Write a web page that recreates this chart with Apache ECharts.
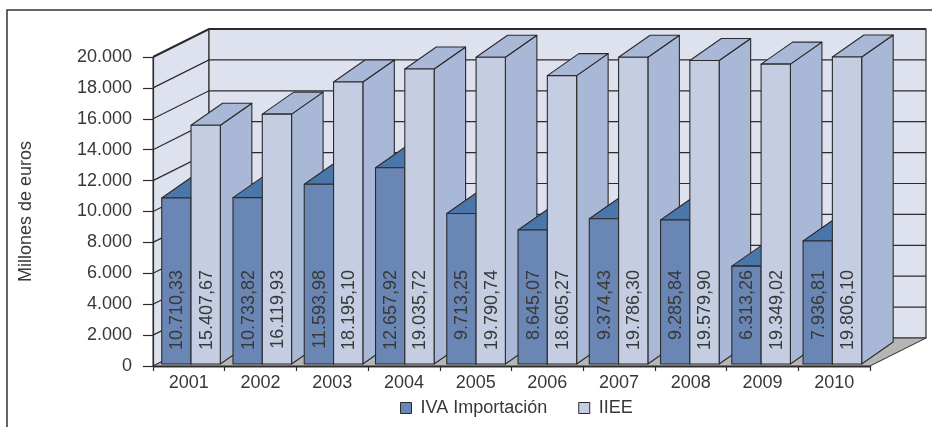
<!DOCTYPE html>
<html>
<head>
<meta charset="utf-8">
<script src="https://cdn.jsdelivr.net/npm/echarts@6/dist/echarts.min.js"></script>
<style>html,body{margin:0;padding:0;background:#fff}#c{width:932px;height:427px}</style>
</head>
<body>
<div id="c"></div>
<script>
// ---- data ----
var years = ['2001','2002','2003','2004','2005','2006','2007','2008','2009','2010'];
var ivaValues = [10710.33, 10733.82, 11593.98, 12657.92, 9713.25, 8645.07, 9374.43, 9285.84, 6313.26, 7936.81];
var iieeValues = [15407.67, 16119.93, 18195.10, 19035.72, 19790.74, 18605.27, 19786.30, 19579.90, 19349.02, 19806.10];
var yTicks = [0, 2000, 4000, 6000, 8000, 10000, 12000, 14000, 16000, 18000, 20000];
var seriesNames = ['IVA Importación', 'IIEE'];
var yAxisTitle = 'Millones de euros';

// ---- style ----
var FONT = '"Liberation Sans", Arial, Helvetica, sans-serif';
var TEXT = '#383838';
var EDGE = '#2b2b2b';
var C = {
  wall: '#dee2ee', floor: '#b6b6b6', floorFront: '#9c9c9c',
  ivaFront: '#6a86b5', ivaTop: '#4b76aa', ivaSide: '#4f6e9e',
  iieeFront: '#c5cde3', iieeTop: '#aab8d7', iieeSide: '#aab8d7'
};
var WALL_DX = 56, WALL_DY = -28;   // depth of the floor / walls
var BAR_DX = 31.5, BAR_DY = -22;   // depth of each bar
var BAR_FRAC = 29.3 / 71.26;       // bar width as a fraction of a category band

function fmt(v, dec) {
  var s = v.toFixed(dec).split('.');
  var ip = s[0].replace(/\B(?=(\d{3})+(?!\d))/g, '.');
  return dec ? ip + ',' + s[1] : ip;
}

function wallsRender(params, api) {
  var cs = params.coordSys;
  var v = api.value(1);
  var xl = cs.x, xr = cs.x + cs.width;
  var y = api.coord([0, v])[1];
  var y0 = api.coord([0, 0])[1];
  var yTop = api.coord([0, yTicks[yTicks.length - 1]])[1];
  var children = [];
  if (params.dataIndex === 0) {
    children.push({type: 'polygon', z2: 0,
      shape: {points: [[xl, y0], [xl, yTop], [xl + WALL_DX, yTop + WALL_DY], [xl + WALL_DX, y0 + WALL_DY]]},
      style: {fill: C.wall, stroke: EDGE, lineWidth: 1}});
    children.push({type: 'rect', z2: 0,
      shape: {x: xl + WALL_DX, y: yTop + WALL_DY, width: cs.width, height: y0 - yTop},
      style: {fill: C.wall, stroke: EDGE, lineWidth: 1.2}});
    children.push({type: 'polygon', z2: 1,
      shape: {points: [[xl, y0], [xr, y0], [xr + WALL_DX, y0 + WALL_DY], [xl + WALL_DX, y0 + WALL_DY]]},
      style: {fill: C.floor, stroke: EDGE, lineWidth: 1}});
    children.push({type: 'rect', z2: 1,
      shape: {x: xl, y: y0, width: cs.width, height: 2},
      style: {fill: C.floorFront}});
  }
  if (v > 0) {
    children.push({type: 'polyline', z2: 5,
      shape: {points: [[xl, y], [xl + WALL_DX, y + WALL_DY], [xr + WALL_DX, y + WALL_DY]]},
      style: {fill: null, stroke: EDGE, lineWidth: v === yTicks[yTicks.length - 1] ? 2 : 1.2}});
  }
  return {type: 'group', children: children};
}

function makeBarRender(order, front, top, side) {
  return function (params, api) {
    var i = api.value(0), v = api.value(1);
    var base = api.coord([i, 0]);
    var tp = api.coord([i, v]);
    var w = api.size([1, 0])[0] * BAR_FRAC;
    var x0 = order === 0 ? base[0] - w : base[0];
    var x1 = x0 + w;
    var yb = base[1], yt = tp[1];
    var z = (i * 2 + order) * 10;
    var st = {stroke: EDGE, lineWidth: 1.1, lineJoin: 'round'};
    return {type: 'group', children: [
      {type: 'polygon', z2: z + 1,
        shape: {points: [[x1, yb], [x1 + BAR_DX, yb + BAR_DY], [x1 + BAR_DX, yt + BAR_DY], [x1, yt]]},
        style: Object.assign({fill: side}, st)},
      {type: 'polygon', z2: z + 2,
        shape: {points: [[x0, yt], [x1, yt], [x1 + BAR_DX, yt + BAR_DY], [x0 + BAR_DX, yt + BAR_DY]]},
        style: Object.assign({fill: top}, st)},
      {type: 'rect', z2: z + 3,
        shape: {x: x0, y: yt, width: w, height: yb - yt},
        style: Object.assign({fill: front}, st)},
      {type: 'text', z2: z + 4, x: (x0 + x1) / 2 + 1, y: yb - 94, rotation: Math.PI / 2,
        style: {text: fmt(v, 2), x: 0, y: 0, align: 'right', verticalAlign: 'middle',
          fontSize: 18, fontFamily: FONT, fill: TEXT}}
    ]};
  };
}

var chart = echarts.init(document.getElementById('c'), null, {renderer: 'canvas'});
chart.setOption({
  animation: false,
  backgroundColor: '#ffffff',
  graphic: [{type: 'rect', silent: true, z: 0,
    shape: {x: 7, y: 10, width: 1000, height: 1000},
    style: {fill: 'none', stroke: '#333', lineWidth: 1.5}}],
  grid: [
    {left: 153, right: 62, top: 57, bottom: 61},
    {left: 155.4, right: 64, top: 54, bottom: 63}
  ],
  xAxis: [
    {type: 'category', gridIndex: 0, data: years, offset: 2, z: 5,
      axisLine: {show: true, lineStyle: {color: EDGE, width: 1.2}},
      axisTick: {show: true, length: 5, lineStyle: {color: EDGE, width: 1.2}},
      axisLabel: {fontSize: 18, fontFamily: FONT, color: TEXT, margin: 6},
      splitLine: {show: false}},
    {type: 'category', gridIndex: 1, data: years, show: false}
  ],
  yAxis: [
    {type: 'value', gridIndex: 0, min: 0, max: 20000, interval: 2000, z: 5,
      name: yAxisTitle, nameLocation: 'middle', nameGap: 118,
      nameTextStyle: {fontSize: 18, fontFamily: FONT, color: TEXT},
      axisLine: {show: true, lineStyle: {color: EDGE, width: 1.2}},
      axisTick: {show: true, length: 10, lineStyle: {color: EDGE, width: 1.2}},
      axisLabel: {fontSize: 18, fontFamily: FONT, color: TEXT, margin: 21,
        formatter: function (v) { return fmt(v, 0); }},
      splitLine: {show: false}},
    {type: 'value', gridIndex: 1, min: 0, max: 20000, show: false}
  ],
  legend: {
    left: 395, top: 394, itemWidth: 11, itemHeight: 11, itemGap: 31, icon: 'rect',
    selectedMode: false,
    textStyle: {fontSize: 18, fontFamily: FONT, color: TEXT, padding: [0, 0, 0, 4]},
    data: [
      {name: seriesNames[0], itemStyle: {color: C.ivaFront, borderColor: EDGE, borderWidth: 1}},
      {name: seriesNames[1], itemStyle: {color: C.iieeFront, borderColor: EDGE, borderWidth: 1}}
    ]
  },
  series: [
    {type: 'custom', name: 'walls', silent: true, z: 1, xAxisIndex: 0, yAxisIndex: 0,
      renderItem: wallsRender, data: yTicks.map(function (v) { return [0, v]; })},
    {type: 'custom', name: seriesNames[0], silent: true, z: 2, xAxisIndex: 1, yAxisIndex: 1,
      itemStyle: {color: C.ivaFront},
      renderItem: makeBarRender(0, C.ivaFront, C.ivaTop, C.ivaSide),
      data: ivaValues.map(function (v, i) { return [i, v]; })},
    {type: 'custom', name: seriesNames[1], silent: true, z: 2, xAxisIndex: 1, yAxisIndex: 1,
      itemStyle: {color: C.iieeFront},
      renderItem: makeBarRender(1, C.iieeFront, C.iieeTop, C.iieeSide),
      data: iieeValues.map(function (v, i) { return [i, v]; })}
  ]
});
</script>
</body>
</html>
